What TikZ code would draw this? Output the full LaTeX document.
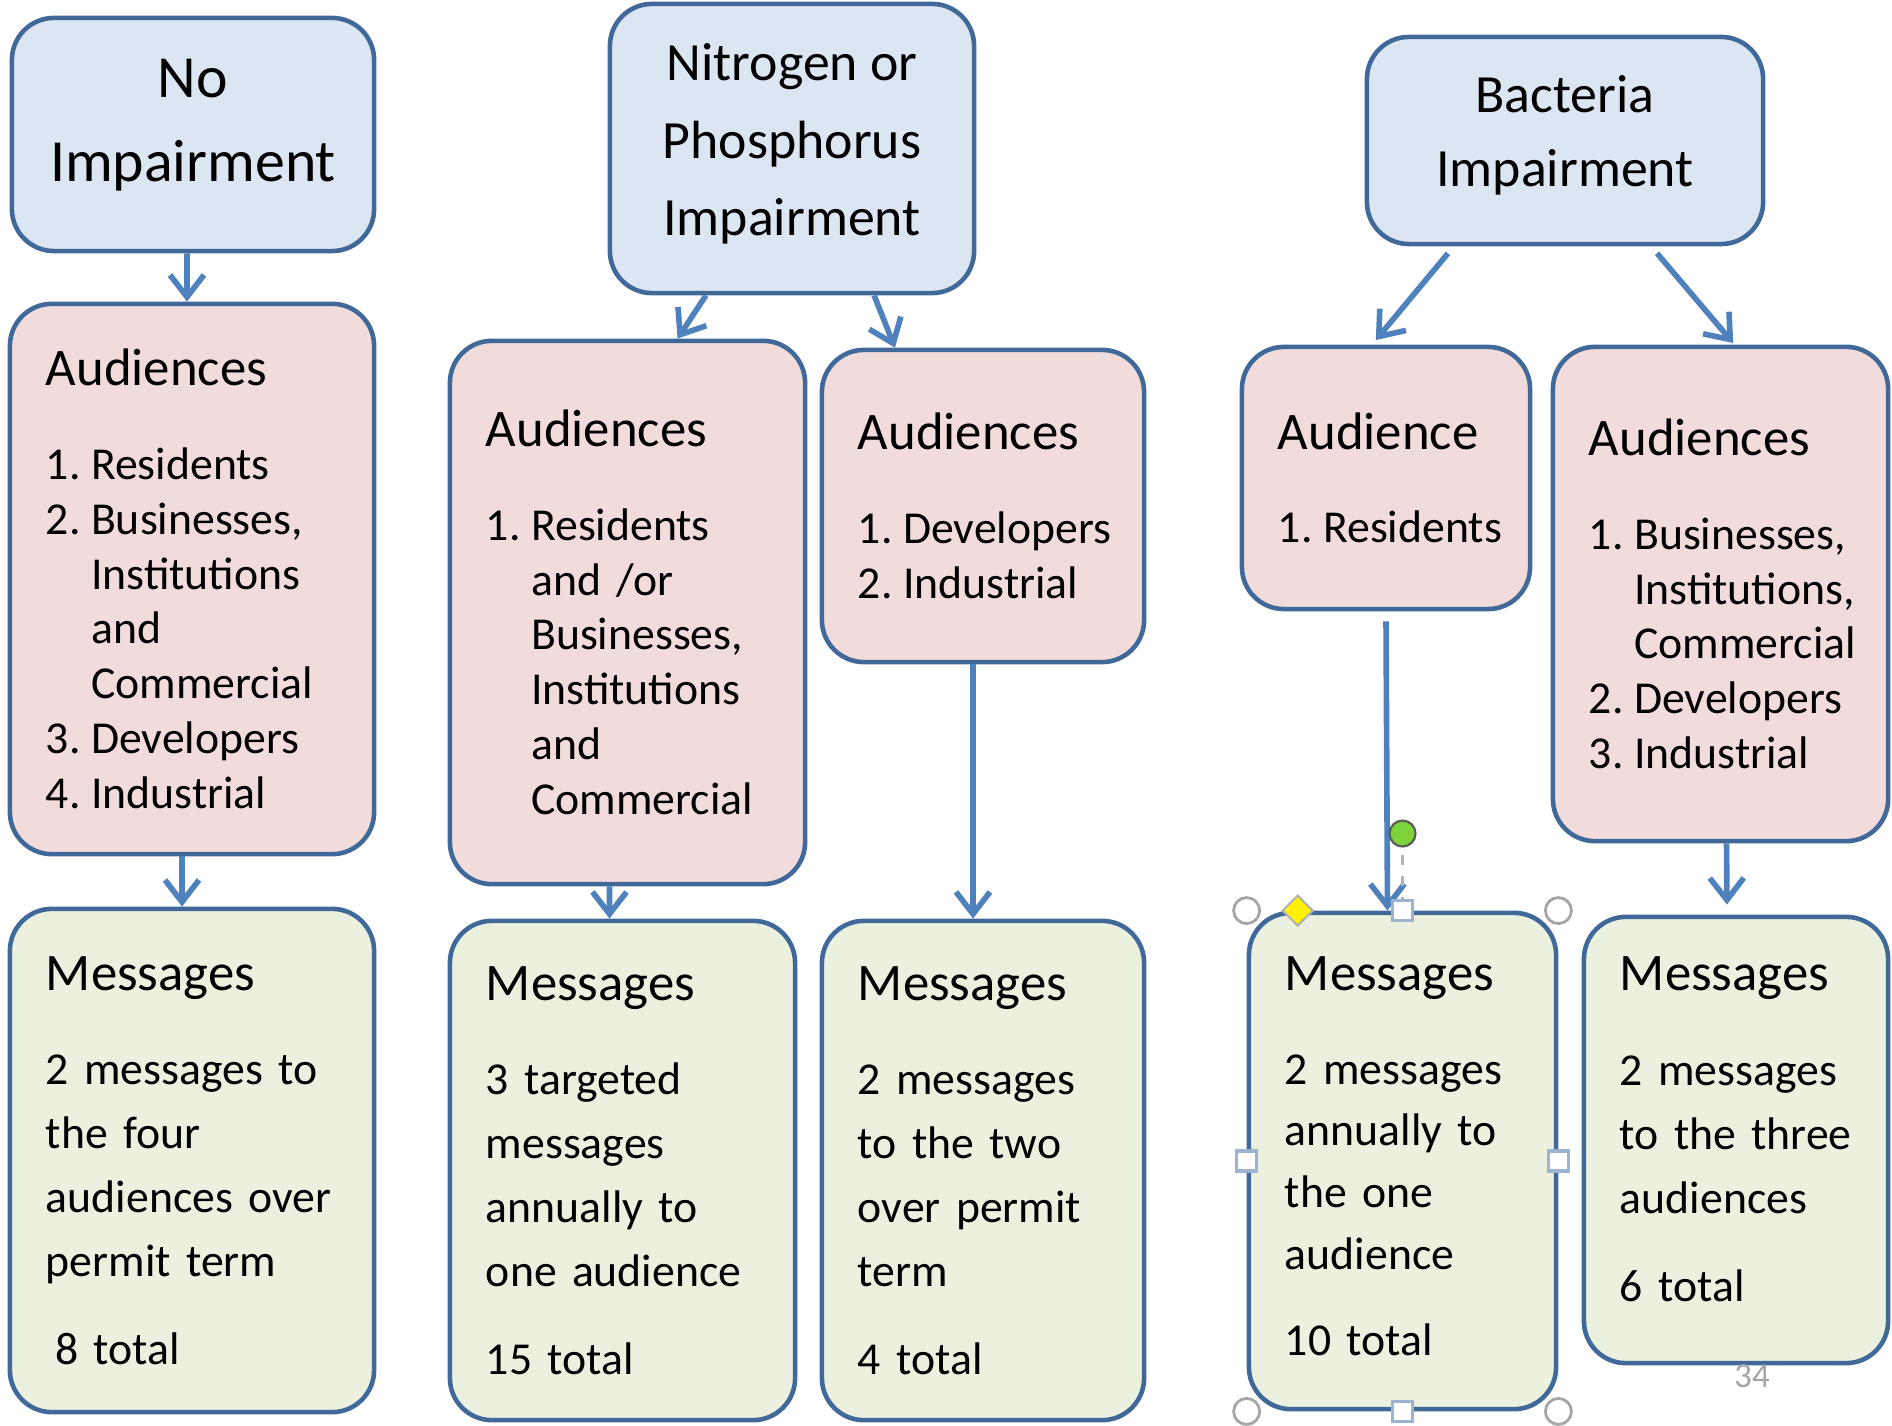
\documentclass[tikz,border=0pt]{standalone}
\usepackage{fontspec}
\setmainfont{Carlito}
\usepackage{xcolor}
\usetikzlibrary{positioning}
\usetikzlibrary{arrows.meta}
\definecolor{boxline}{HTML}{40699A}
\definecolor{impfill}{HTML}{DCE6F2}
\definecolor{audfill}{HTML}{F2DCDB}
\definecolor{msgfill}{HTML}{EBF1DE}
\definecolor{arrowblue}{HTML}{4F81BD}
\definecolor{handleline}{HTML}{9DB3CF}
\definecolor{rotgreen}{HTML}{7DD33A}
\newcommand{\boxtitle}[1]{{\fontsize{15}{15.6}\selectfont #1}}
\newcommand{\listno}[1]{\makebox[0.99em][l]{#1.}}
\newcommand{\listind}{\makebox[0.99em]{}}

\begin{document}
\begin{tikzpicture}[x=0.01cm, y=-0.01cm,
    box/.style={draw=boxline, line width=1.3pt, rounded corners=0.42cm, inner xsep=0.36cm, inner ysep=0pt},
    imp/.style={box, fill=impfill, align=center},
    aud/.style={box, fill=audfill, align=left, font=\fontsize{13}{15.6}\selectfont},
    msg/.style={box, fill=msgfill, align=left, font=\fontsize{13}{18.2}\selectfont},
    arr/.style={draw=arrowblue, line width=1.6pt, -{Straight Barb[length=0.22cm, width=0.34cm]}},
    handle/.style={draw=handleline, fill=white, line width=0.9pt, minimum size=0.2cm, inner sep=0pt}]
    \useasboundingbox (0,0) rectangle (1892,1425);
    % Impairment boxes
    \node[imp, minimum width=3.62cm, minimum height=2.33cm, font=\fontsize{17}{24}\selectfont] (noimp) at (193,134.5) {No\\Impairment\\[-16pt]\mbox{}};
    \node[imp, minimum width=3.64cm, minimum height=2.89cm, font=\fontsize{15.3}{22}\selectfont] (nitro) at (792,148.5) {Nitrogen or\\Phosphorus\\Impairment\\[-17pt]\mbox{}};
    \node[imp, minimum width=3.96cm, minimum height=2.07cm, font=\fontsize{15.3}{21}\selectfont] (bact) at (1565,140.5) {Bacteria\\Impairment\\[-15.8pt]\mbox{}};
    % Audience boxes
    \node[aud, minimum width=3.64cm, minimum height=5.5cm, text width=2.92cm] (audno) at (192,579)
        {\boxtitle{Audiences}\\[11pt] \listno{1}Residents\\ \listno{2}Businesses,\\ \listind Institutions\\ \listind and\\ \listind Commercial\\ \listno{3}Developers\\ \listno{4}Industrial};
    \node[aud, minimum width=3.55cm, minimum height=5.43cm, text width=2.83cm] (audnpa) at (627.5,612.5)
        {\boxtitle{Audiences}\\[11pt] \listno{1}Residents\\ \listind and /or\\ \listind Businesses,\\ \listind Institutions\\ \listind and\\ \listind Commercial};
    \node[aud, minimum width=3.22cm, minimum height=3.12cm, text width=2.5cm] (audnpb) at (983,506)
        {\boxtitle{Audiences}\\[11pt] \listno{1}Developers\\ \listno{2}Industrial};
    \node[aud, minimum width=2.88cm, minimum height=2.62cm, text width=2.16cm] (audba) at (1386,478)
        {\boxtitle{Audience}\\[11pt] \listno{1}Residents};
    \node[aud, minimum width=3.35cm, minimum height=4.94cm, text width=2.63cm] (audbb) at (1720.5,594)
        {\boxtitle{Audiences}\\[11pt] \listno{1}Businesses,\\ \listind Institutions,\\ \listind Commercial\\ \listno{2}Developers\\ \listno{3}Industrial};
    % Message boxes
    \node[msg, minimum width=3.64cm, minimum height=5.03cm, text width=2.92cm] (msgno) at (192,1160.5)
        {\boxtitle{Messages}\\[8.6pt] 2 messages to\\ the four\\ audiences over\\ permit term\\[6.8pt] \hspace*{2.6pt}8 total};
    \node[msg, minimum width=3.45cm, minimum height=4.99cm, text width=2.73cm] (msgnpa) at (622.5,1170.5)
        {\boxtitle{Messages}\\[8.6pt] 3 targeted\\ messages\\ annually to\\ one audience\\[6.8pt] 15 total};
    \node[msg, minimum width=3.22cm, minimum height=4.99cm, text width=2.5cm] (msgnpb) at (983,1170.5)
        {\boxtitle{Messages}\\[8.6pt] 2 messages\\ to the two\\ over permit\\ term\\[6.8pt] 4 total};
    \node[msg, minimum width=3.07cm, minimum height=4.96cm, text width=2.35cm, font=\fontsize{13}{17.6}\selectfont] (msgba) at (1402.5,1161)
        {\boxtitle{Messages}\\[9pt] 2 messages\\ annually to\\ the one\\ audience\\[6.8pt] 10 total\\[-14.8pt]\mbox{}};
    \node[msg, minimum width=3.04cm, minimum height=4.46cm, text width=2.32cm] (msgbb) at (1736,1140)
        {\boxtitle{Messages}\\[8.6pt] 2 messages\\ to the three\\ audiences\\[6.8pt] 6 total\\[-12pt]\mbox{}};
    % Arrows
    \draw[arr] ([xshift=-0.06cm]noimp.south) -- ([xshift=-0.05cm]audno.north);
    \draw[arr] ([xshift=-0.10cm]audno.south) -- ([xshift=-0.10cm]msgno.north);
    \draw[arr] ([xshift=-0.86cm]nitro.south) -- ([xshift=0.5cm]audnpa.north);
    \draw[arr] ([xshift=0.82cm]nitro.south) -- ([xshift=-0.88cm]audnpb.north);
    \draw[arr] ([xshift=-0.18cm]audnpa.south) -- ([xshift=-0.13cm]msgnpa.north);
    \draw[arr] ([xshift=-0.10cm]audnpb.south) -- ([xshift=-0.10cm]msgnpb.north);
    \draw[arr, shorten >=0.06cm] ([xshift=-1.17cm, yshift=-0.07cm]bact.south) -- ([xshift=-0.14cm]audba.north);
    \draw[arr, shorten >=0.02cm] ([xshift=0.92cm, yshift=-0.07cm]bact.south) -- ([xshift=0.14cm]audbb.north);
    \draw[arr] ([yshift=-0.1cm]audba.south) -- ([xshift=-0.15cm]msgba.north);
    \draw[arr, shorten >=0.1cm] ([xshift=0.06cm]audbb.south) -- ([xshift=-0.09cm]msgbb.north);
    % Selection handles on the bacteria message box
    \coordinate (rot) at ([yshift=0.77cm]msgba.north);
    \draw[gray!60, line width=0.6pt, dashed] (rot) -- (msgba.north);
    \filldraw[draw=gray!70!black, fill=rotgreen, line width=0.6pt] (rot) circle[radius=0.13cm];
    \foreach \c in {north west, north east, south west, south east}
        \filldraw[draw=gray!70, fill=white, line width=0.8pt] (msgba.\c) circle[radius=0.13cm];
    \foreach \c in {north, south, west, east}
        \node[handle] at (msgba.\c) {};
    \filldraw[draw=gray!60, fill=yellow, line width=0.6pt, shift={(msgba.north west)}, xshift=0.51cm]
        (-0.15cm,0) -- (0,0.15cm) -- (0.15cm,0) -- (0,-0.15cm) -- cycle;
    % Page number
    \node[text=gray!70, font=\fontsize{10}{12}\selectfont] (pagenum) at (1752,1376) {34};
\end{tikzpicture}
\end{document}
